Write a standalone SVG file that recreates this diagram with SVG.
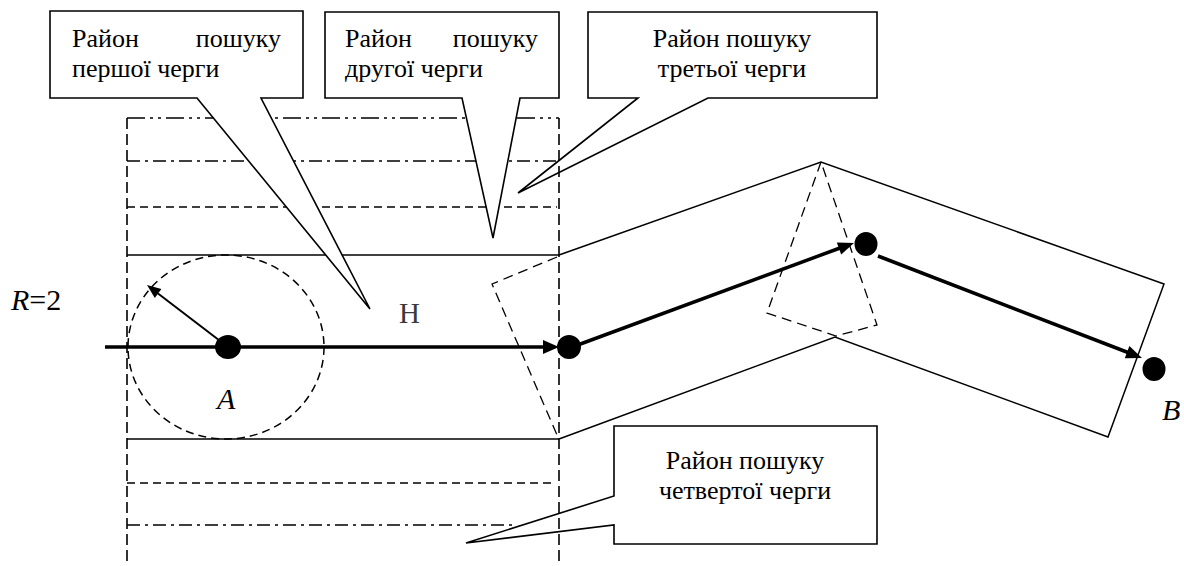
<svg xmlns="http://www.w3.org/2000/svg" width="1184" height="566" viewBox="0 0 1184 566">
  <style>
    .thin { fill: none; stroke: #000; stroke-width: 1.5; }
    .dash { stroke-dasharray: 8 5; }
    .dashdot { stroke-dasharray: 13 5 3 5; }
    .dashdotdot { stroke-dasharray: 18 5 3 5 3 5; }
    .vdash { fill: none; stroke: #000; stroke-width: 1.6; stroke-dasharray: 11 5; }
    .kite { fill: none; stroke: #000; stroke-width: 1.3; stroke-dasharray: 10 6; }
    .callout { fill: #fff; stroke: #000; stroke-width: 1.6; stroke-linejoin: miter; }
    text { font-family: 'Liberation Serif', 'Times New Roman', serif; }
    .txt { font-size: 26px; fill: #000; }
    .lbl { font-size: 30px; font-style: italic; fill: #000; }
    .route { stroke: #000; stroke-width: 3.5; fill: none; }
    .head { fill: #000; stroke: none; }
    .dot { fill: #000; }
  </style>

  <!-- search zone boundaries (horizontal) -->
  <g id="zones">
    <line class="thin dashdotdot" x1="127" y1="118" x2="559" y2="118"/>
    <line class="thin dashdot" x1="127" y1="161" x2="559" y2="161"/>
    <line class="thin dash" x1="127" y1="207" x2="557" y2="207"/>
    <line class="thin" x1="127" y1="255" x2="559" y2="255"/>
    <line class="thin" x1="127" y1="439" x2="559" y2="439"/>
    <line class="thin dash" x1="127" y1="483" x2="552" y2="483"/>
    <line class="thin dashdot" x1="127" y1="525" x2="515" y2="525"/>
  </g>

  <!-- radius circle around A -->
  <g id="circle-a">
    <ellipse class="thin dash" cx="226" cy="347" rx="98" ry="92"/>
  </g>

  <!-- bent search corridor -->
  <g id="corridor">
    <polyline class="thin" points="559,255 821,162 1164,284 1108,437 835,337 559,439"/>
    <polyline class="kite" points="557,257 492,284 557,435"/>
    <polygon class="kite" points="821,162 767,313 836,336 877,325"/>
  </g>

  <!-- callouts -->
  <g id="callout-1">
    <path class="callout" d="M50,11 H303 V98 H261 L370,309 L197,98 H50 Z"/>
    <text class="txt" x="72" y="47">Район</text>
    <text class="txt" x="281" y="47" text-anchor="end">пошуку</text>
    <text class="txt" x="72" y="77">першої черги</text>
  </g>
  <g id="callout-2">
    <path class="callout" d="M325,12 H559 V98 H520 L493,238 L462,98 H325 Z"/>
    <text class="txt" x="345" y="47">Район</text>
    <text class="txt" x="538" y="47" text-anchor="end">пошуку</text>
    <text class="txt" x="345" y="77">другої черги</text>
  </g>
  <g id="callout-3">
    <path class="callout" d="M588,12 H877 V98 H708 L518,193 L638,98 H588 Z"/>
    <text class="txt" x="732" y="47" text-anchor="middle">Район пошуку</text>
    <text class="txt" x="732" y="77" text-anchor="middle">третьої черги</text>
  </g>
  <g id="callout-4">
    <path class="callout" d="M614,426 H877 V544 H614 V525 L466,543 L614,496 Z"/>
    <text class="txt" x="745" y="469" text-anchor="middle">Район пошуку</text>
    <text class="txt" x="745" y="499" text-anchor="middle">четвертої черги</text>
  </g>

  <!-- zone side boundaries (vertical) -->
  <g id="zone-sides">
    <line class="vdash" x1="127" y1="118" x2="127" y2="566"/>
    <line class="vdash" x1="559" y1="118" x2="559" y2="566"/>
  </g>

  <!-- route connectors -->
  <g id="connectors">
    <line x1="228" y1="347" x2="158" y2="293.5" stroke="#000" stroke-width="2"/>
    <polygon class="head" points="147,285 161.4,289.1 154.8,297.9"/>

    <line class="route" x1="105" y1="347" x2="545" y2="347"/>
    <polygon class="head" points="559,347 543,340 543,354"/>

    <line class="route" x1="575" y1="346" x2="840" y2="248"/>
    <polygon class="head" points="854,243 841.2,254.6 836.8,242.4"/>

    <line class="route" x1="878" y1="256" x2="1128" y2="352.5"/>
    <polygon class="head" points="1142,358 1124.8,358.3 1129.4,346.1"/>
  </g>

  <!-- route points -->
  <g id="point-a">
    <ellipse class="dot" cx="228" cy="347" rx="13" ry="12"/>
    <text class="lbl" x="217" y="409">A</text>
  </g>
  <g id="point-1">
    <ellipse class="dot" cx="569" cy="347" rx="12" ry="12"/>
  </g>
  <g id="point-2">
    <ellipse class="dot" cx="866" cy="244" rx="11.5" ry="12"/>
  </g>
  <g id="point-b">
    <ellipse class="dot" cx="1154" cy="369" rx="11.5" ry="12"/>
    <text class="lbl" x="1162" y="420">B</text>
  </g>

  <!-- labels -->
  <g id="labels">
    <text class="lbl" x="11" y="310">R<tspan style="font-style: normal">=2</tspan></text>
    <text class="txt" x="399" y="323" style="font-size: 29px; fill: #3a3a3a">Н</text>
  </g>
</svg>
